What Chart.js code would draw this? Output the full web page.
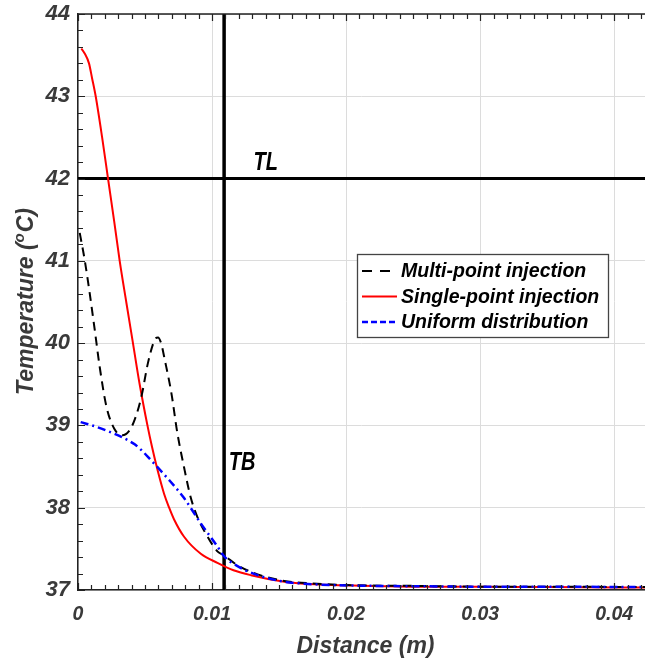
<!DOCTYPE html>
<html>
<head>
<meta charset="utf-8">
<script src="https://cdn.jsdelivr.net/npm/chart.js@4.4.0/dist/chart.umd.min.js"></script>
<style>
  body { margin: 0; background: #fff; }
  #box { width: 645px; height: 664px; position: relative; }
</style>
</head>
<body>
<div id="box"><canvas id="grafico"></canvas></div>
<script>
// eixos
const xTicks = [0, 0.01, 0.02, 0.03, 0.04];
const yTicks = [37, 38, 39, 40, 41, 42, 43, 44];
const xMin = 0, xMax = 0.0423;
const yMin = 37, yMax = 44;

// Multi-point injection
const multiX = [0.00013, 0.0005, 0.00087, 0.00125, 0.00162, 0.00212, 0.00274, 0.0033, 0.0038, 0.00423, 0.00473, 0.00522, 0.00572, 0.00597, 0.0062, 0.00647, 0.00697, 0.0074, 0.0079, 0.0084, 0.0089, 0.00966, 0.0104, 0.0109, 0.0119, 0.0134, 0.0154, 0.0175, 0.02, 0.025, 0.03, 0.035, 0.0423];
const multiY = [41.34, 41.01, 40.61, 40.16, 39.71, 39.23, 38.95, 38.88, 38.93, 39.07, 39.35, 39.76, 40.04, 40.07, 40.0, 39.8, 39.39, 38.92, 38.5, 38.13, 37.89, 37.65, 37.47, 37.42, 37.3, 37.19, 37.11, 37.08, 37.06, 37.05, 37.04, 37.04, 37.035];

// Single-point injection
const singleX = [0.00025, 0.0005, 0.00082, 0.00105, 0.00132, 0.0018, 0.00224, 0.0027, 0.00311, 0.0036, 0.0041, 0.0046, 0.00518, 0.00552, 0.00593, 0.00642, 0.0068, 0.00716, 0.0079, 0.00916, 0.0104, 0.0116, 0.0129, 0.0154, 0.0166, 0.019, 0.022, 0.026, 0.03, 0.035, 0.0423];
const singleY = [43.58, 43.52, 43.4, 43.22, 43.0, 42.5, 42.0, 41.48, 41.0, 40.5, 40.0, 39.5, 39.0, 38.74, 38.46, 38.17, 38.0, 37.86, 37.65, 37.44, 37.33, 37.24, 37.18, 37.1, 37.08, 37.06, 37.05, 37.04, 37.04, 37.035, 37.03];

// Uniform distribution
const uniformX = [0.0002, 0.00125, 0.00224, 0.00324, 0.00423, 0.00473, 0.00543, 0.00667, 0.0079, 0.00916, 0.0104, 0.0109, 0.0119, 0.0134, 0.0154, 0.0166, 0.019, 0.022, 0.026, 0.03, 0.035, 0.0423];
const uniformY = [39.04, 38.99, 38.93, 38.86, 38.77, 38.70, 38.58, 38.36, 38.12, 37.81, 37.53, 37.41, 37.29, 37.18, 37.10, 37.08, 37.06, 37.05, 37.045, 37.04, 37.04, 37.035];

// linhas de referência TL e TB
const tlX = [0, 0.0423];
const tlY = [42, 42];
const tbX = [0.0109, 0.0109];
const tbY = [37, 44];
const tlLabel = { text: 'TL', x: 0.0131, y: 42.105 };
const tbLabel = { text: 'TB', x: 0.01125, y: 38.46 };

const pares = (xs, ys) => xs.map((x, i) => ({ x: x, y: ys[i] }));

const fonte = 'Liberation Sans, Arial, Helvetica, sans-serif';
const cinza = '#3a3a3a';

// desenha moldura, ticks menores, títulos, legenda e rótulos TL/TB
const extras = {
  id: 'extras',
  afterDraw(chart) {
    const ctx = chart.ctx;
    const a = chart.chartArea;
    const sx = chart.scales.x, sy = chart.scales.y;
    ctx.save();

    // linha superior do eixo
    ctx.strokeStyle = '#222';
    ctx.lineWidth = 1.5;
    ctx.beginPath();
    ctx.moveTo(a.left, a.top);
    ctx.lineTo(a.right, a.top);
    ctx.stroke();

    // ticks para dentro
    ctx.lineWidth = 1.2;
    ctx.beginPath();
    for (let i = 0; i <= 35; i++) {
      const py = Math.round(sy.getPixelForValue(yMin + i * 0.2)) + 0.5;
      ctx.moveTo(a.left, py);
      ctx.lineTo(a.left + (i % 5 === 0 ? 7 : 5), py);
    }
    for (let i = 0; i <= 42; i++) {
      const px = Math.round(sx.getPixelForValue(i * 0.001)) + 0.5;
      const len = i % 10 === 0 ? 7 : 5;
      ctx.moveTo(px, a.bottom);
      ctx.lineTo(px, a.bottom - len);
      ctx.moveTo(px, a.top);
      ctx.lineTo(px, a.top + len);
    }
    ctx.stroke();

    // título do eixo x
    ctx.fillStyle = cinza;
    ctx.font = 'italic bold 23px ' + fonte;
    ctx.textAlign = 'center';
    ctx.textBaseline = 'alphabetic';
    ctx.fillText('Distance (m)', (a.left + a.right) / 2 + 4, 653);

    // título do eixo y com sobrescrito
    ctx.translate(33, (a.top + a.bottom) / 2);
    ctx.rotate(-Math.PI / 2);
    const p1 = 'Temperature (', p2 = 'o', p3 = 'C)';
    ctx.font = 'italic bold 23px ' + fonte;
    const w1 = ctx.measureText(p1).width, w3 = ctx.measureText(p3).width;
    ctx.font = 'italic bold 15px ' + fonte;
    const w2 = ctx.measureText(p2).width;
    let x0 = -(w1 + w2 + w3) / 2;
    ctx.textAlign = 'left';
    ctx.font = 'italic bold 23px ' + fonte;
    ctx.fillText(p1, x0, 0);
    ctx.font = 'italic bold 15px ' + fonte;
    ctx.fillText(p2, x0 + w1, -9);
    ctx.font = 'italic bold 23px ' + fonte;
    ctx.fillText(p3, x0 + w1 + w2 + 1, 0);
    ctx.setTransform(1, 0, 0, 1, 0, 0);

    // rótulos TL e TB (letra estreita)
    ctx.fillStyle = '#000';
    ctx.font = 'italic bold 25px ' + fonte;
    [tlLabel, tbLabel].forEach(l => {
      ctx.save();
      ctx.translate(sx.getPixelForValue(l.x), sy.getPixelForValue(l.y));
      ctx.scale(0.8, 1);
      ctx.fillText(l.text, 0, 0);
      ctx.restore();
    });

    // legenda
    const bx = 357.5, by = 254.5, bw = 251, bh = 83;
    ctx.fillStyle = '#fff';
    ctx.fillRect(bx, by, bw, bh);
    ctx.strokeStyle = '#444';
    ctx.lineWidth = 1.3;
    ctx.strokeRect(bx, by, bw, bh);
    const itens = chart.data.datasets.filter(d => d.label);
    ctx.font = 'italic bold 19.5px ' + fonte;
    itens.forEach((d, i) => {
      const base = 277 + i * 25.5;
      ctx.strokeStyle = d.borderColor;
      ctx.lineWidth = d.borderWidth;
      ctx.setLineDash(d.legendDash || []);
      ctx.beginPath();
      ctx.moveTo(362, base - 6);
      ctx.lineTo(397, base - 6);
      ctx.stroke();
      ctx.setLineDash([]);
      ctx.fillStyle = '#000';
      ctx.fillText(d.label, 401, base);
    });
    ctx.restore();
  }
};

const ctxGrafico = document.getElementById('grafico').getContext('2d');
new Chart(ctxGrafico, {
  type: 'scatter',
  data: {
    datasets: [
      {
        label: 'Multi-point injection',
        data: pares(multiX, multiY),
        showLine: true,
        borderColor: '#000',
        borderWidth: 2,
        borderDash: [9, 6],
        legendDash: [10, 8],
        cubicInterpolationMode: 'monotone',
        pointRadius: 0,
        order: 1
      },
      {
        label: 'Single-point injection',
        data: pares(singleX, singleY),
        showLine: true,
        borderColor: '#ff0000',
        borderWidth: 2,
        cubicInterpolationMode: 'monotone',
        pointRadius: 0,
        order: 2
      },
      {
        label: 'Uniform distribution',
        data: pares(uniformX, uniformY),
        showLine: true,
        borderColor: '#0000ff',
        borderWidth: 2.5,
        borderDash: [8, 4, 2, 4],
        legendDash: [6, 3],
        cubicInterpolationMode: 'monotone',
        pointRadius: 0,
        order: 0
      },
      {
        data: pares(tlX, tlY),
        showLine: true,
        borderColor: '#000',
        borderWidth: 3,
        pointRadius: 0,
        order: 10
      },
      {
        data: pares(tbX, tbY),
        showLine: true,
        borderColor: '#000',
        borderWidth: 3.5,
        pointRadius: 0,
        order: 10
      }
    ]
  },
  options: {
    responsive: true,
    maintainAspectRatio: false,
    animation: false,
    layout: { padding: { top: 14, left: 0, right: 0, bottom: 0 } },
    plugins: {
      legend: { display: false },
      tooltip: { enabled: false }
    },
    scales: {
      x: {
        type: 'linear',
        min: xMin,
        max: xMax,
        afterBuildTicks: s => { s.ticks = xTicks.map(v => ({ value: v })); },
        afterFit: s => { s.height = 74; s.paddingLeft = 0; s.paddingRight = 0; },
        grid: { color: '#dcdcdc', lineWidth: 1, drawTicks: false },
        border: { display: true, color: '#222', width: 1.5 },
        ticks: {
          padding: 13,
          color: cinza,
          font: { family: fonte, size: 19.5, weight: 'bold', style: 'italic' },
          callback: v => String(v),
          maxRotation: 0
        }
      },
      y: {
        type: 'linear',
        min: yMin,
        max: yMax,
        afterBuildTicks: s => { s.ticks = yTicks.map(v => ({ value: v })); },
        afterFit: s => { s.width = 78; s.paddingTop = 0; s.paddingBottom = 0; },
        grid: { color: '#dcdcdc', lineWidth: 1, drawTicks: false },
        border: { display: true, color: '#222', width: 1.5 },
        ticks: {
          padding: 8,
          color: cinza,
          font: { family: fonte, size: 22, weight: 'bold', style: 'italic' },
          callback: v => String(v)
        }
      }
    }
  },
  plugins: [extras]
});
</script>
</body>
</html>
